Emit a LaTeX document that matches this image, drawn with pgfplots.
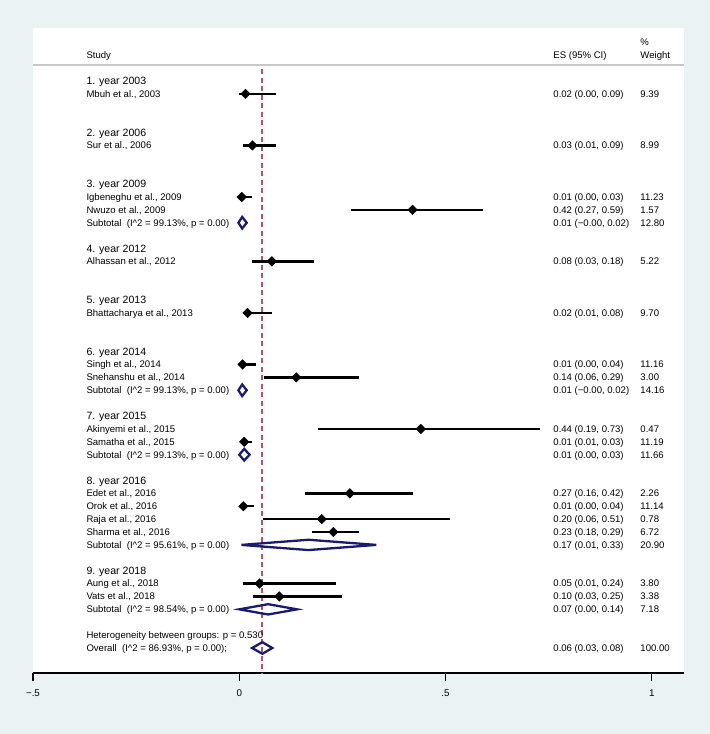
\documentclass[border=0pt]{standalone}
\usepackage{fontspec}
\setmainfont{Liberation Sans}
\usepackage{pgfplots}
\usepackage{pgfplotstable}
\pgfplotsset{compat=1.18}

\definecolor{bgc}{RGB}{234,242,243}
\definecolor{stnavy}{RGB}{26,26,112}
\definecolor{refred}{RGB}{181,84,95}
\definecolor{sepgray}{RGB}{200,200,200}

% row = line number from the top, es / lo / hi as drawn
\pgfplotstableread{
row es    lo     hi
2   0.015 0.00   0.09
6   0.032 0.01   0.09
10  0.006 0.00   0.03
11  0.42  0.27   0.59
15  0.079 0.03   0.18
19  0.02  0.01   0.08
23  0.008 0.00   0.04
24  0.138 0.06   0.29
28  0.44  0.19   0.73
29  0.012 0.005  0.03
33  0.268 0.16   0.42
34  0.01  0.00   0.035
35  0.20  0.058  0.51
36  0.228 0.177  0.289
40  0.049 0.01   0.235
41  0.097 0.034  0.248
}\studies

\tikzset{
  lbl/.style={anchor=base west, yshift=-3.4bp, inner sep=0pt, font=\fontsize{9.6}{11}\selectfont},
  grp/.style={anchor=base west, yshift=-3.8bp, inner sep=0pt, font=\fontsize{10.6}{12}\selectfont},
  diam/.style={stnavy, line width=2.3pt, line join=miter},
}
\newcommand{\isq}{I\textasciicircum 2}
% one text row: row, ES (95% CI), weight
\newcommand{\esrow}[3]{%
  \node[lbl] at (axis cs:0.761,-#1) {#2};
  \node[lbl] at (axis cs:0.972,-#1) {#3};}

\begin{document}
\begin{tikzpicture}[x=1bp,y=1bp]
\fill[bgc] (-33,-61) rectangle (677,673);
\fill[white] (0,0) rectangle (651,645);
\begin{axis}[
    at={(0,0)}, anchor=south west,
    width=651bp, height=645bp, scale only axis,
    xmin=-0.5, xmax=1.078,
    ymin=-46.94, ymax=3.113,
    axis x line*=bottom, axis y line=none,
    x axis line style={black, line width=1.3pt},
    xtick={-0.5,0,0.5,1},
    xticklabels={−.5,0,.5,1},
    ytick=\empty,
    tick align=outside,
    major tick length=8bp,
    xtick style={black, line width=1.3pt},
    ticklabel style={font=\fontsize{9.8}{11}\selectfont},
    xticklabel style={yshift=-5.5bp},
    clip=false,
]
% separator under header and reference line at overall estimate
\draw[sepgray, line width=1.5pt] (axis cs:-0.5,0.224) -- (axis cs:1.078,0.224);
\addplot[refred, line width=2pt, dash pattern=on 5bp off 3.5bp] coordinates {(0.056,-0.1) (0.056,-46.94)};

% individual studies
\addplot[black, only marks, mark=square*, mark size=3.4pt,
    mark options={rotate=45, fill=black, draw=black},
    error bars/.cd, x dir=both, x explicit, error mark=none,
    error bar style={line width=2.4pt, black}]
  table[x=es, y expr=-\thisrow{row},
        x error plus expr=\thisrow{hi}-\thisrow{es},
        x error minus expr=\thisrow{es}-\thisrow{lo}] {\studies};

% subtotal and overall diamonds
\addplot[diam] coordinates {(-0.002,-12) (0.007,-11.55) (0.018,-12) (0.007,-12.45)} -- cycle;
\addplot[diam] coordinates {(-0.002,-25) (0.007,-24.55) (0.018,-25) (0.007,-25.45)} -- cycle;
\addplot[diam] coordinates {(0.0,-30) (0.012,-29.55) (0.025,-30) (0.012,-30.45)} -- cycle;
\addplot[diam] coordinates {(0.005,-37) (0.168,-36.6) (0.332,-37) (0.168,-37.4)} -- cycle;
\addplot[diam] coordinates {(0.0,-42) (0.07,-41.6) (0.14,-42) (0.07,-42.4)} -- cycle;
\addplot[diam] coordinates {(0.031,-45) (0.056,-44.55) (0.08,-45) (0.056,-45.45)} -- cycle;

% header
\node[lbl] at (axis cs:-0.3708,1) {Study};
\node[lbl] at (axis cs:0.761,1) {ES (95\% CI)};
\node[lbl] at (axis cs:0.972,2) {\%};
\node[lbl] at (axis cs:0.972,1) {Weight};

% left column
\node[grp] at (axis cs:-0.3708,-1) {1. year 2003};
\node[lbl] at (axis cs:-0.3708,-2) {Mbuh et al., 2003};
\node[grp] at (axis cs:-0.3708,-5) {2. year 2006};
\node[lbl] at (axis cs:-0.3708,-6) {Sur et al., 2006};
\node[grp] at (axis cs:-0.3708,-9) {3. year 2009};
\node[lbl] at (axis cs:-0.3708,-10) {Igbeneghu et al., 2009};
\node[lbl] at (axis cs:-0.3708,-11) {Nwuzo et al., 2009};
\node[lbl] at (axis cs:-0.3708,-12) {Subtotal\ \ (\isq{} = 99.13\%, p = 0.00)};
\node[grp] at (axis cs:-0.3708,-14) {4. year 2012};
\node[lbl] at (axis cs:-0.3708,-15) {Alhassan et al., 2012};
\node[grp] at (axis cs:-0.3708,-18) {5. year 2013};
\node[lbl] at (axis cs:-0.3708,-19) {Bhattacharya et al., 2013};
\node[grp] at (axis cs:-0.3708,-22) {6. year 2014};
\node[lbl] at (axis cs:-0.3708,-23) {Singh et al., 2014};
\node[lbl] at (axis cs:-0.3708,-24) {Snehanshu et al., 2014};
\node[lbl] at (axis cs:-0.3708,-25) {Subtotal\ \ (\isq{} = 99.13\%, p = 0.00)};
\node[grp] at (axis cs:-0.3708,-27) {7. year 2015};
\node[lbl] at (axis cs:-0.3708,-28) {Akinyemi et al., 2015};
\node[lbl] at (axis cs:-0.3708,-29) {Samatha et al., 2015};
\node[lbl] at (axis cs:-0.3708,-30) {Subtotal\ \ (\isq{} = 99.13\%, p = 0.00)};
\node[grp] at (axis cs:-0.3708,-32) {8. year 2016};
\node[lbl] at (axis cs:-0.3708,-33) {Edet et al., 2016};
\node[lbl] at (axis cs:-0.3708,-34) {Orok et al., 2016};
\node[lbl] at (axis cs:-0.3708,-35) {Raja et al., 2016};
\node[lbl] at (axis cs:-0.3708,-36) {Sharma et al., 2016};
\node[lbl] at (axis cs:-0.3708,-37) {Subtotal\ \ (\isq{} = 95.61\%, p = 0.00)};
\node[grp] at (axis cs:-0.3708,-39) {9. year 2018};
\node[lbl] at (axis cs:-0.3708,-40) {Aung et al., 2018};
\node[lbl] at (axis cs:-0.3708,-41) {Vats et al., 2018};
\node[lbl] at (axis cs:-0.3708,-42) {Subtotal\ \ (\isq{} = 98.54\%, p = 0.00)};
\node[lbl] at (axis cs:-0.3708,-44) {Heterogeneity between groups: p = 0.530};
\node[lbl] at (axis cs:-0.3708,-45) {Overall\ \ (\isq{} = 86.93\%, p = 0.00);};

% ES and weight columns
\esrow{2}{0.02 (0.00, 0.09)}{9.39}
\esrow{6}{0.03 (0.01, 0.09)}{8.99}
\esrow{10}{0.01 (0.00, 0.03)}{11.23}
\esrow{11}{0.42 (0.27, 0.59)}{1.57}
\esrow{12}{0.01 (−0.00, 0.02)}{12.80}
\esrow{15}{0.08 (0.03, 0.18)}{5.22}
\esrow{19}{0.02 (0.01, 0.08)}{9.70}
\esrow{23}{0.01 (0.00, 0.04)}{11.16}
\esrow{24}{0.14 (0.06, 0.29)}{3.00}
\esrow{25}{0.01 (−0.00, 0.02)}{14.16}
\esrow{28}{0.44 (0.19, 0.73)}{0.47}
\esrow{29}{0.01 (0.01, 0.03)}{11.19}
\esrow{30}{0.01 (0.00, 0.03)}{11.66}
\esrow{33}{0.27 (0.16, 0.42)}{2.26}
\esrow{34}{0.01 (0.00, 0.04)}{11.14}
\esrow{35}{0.20 (0.06, 0.51)}{0.78}
\esrow{36}{0.23 (0.18, 0.29)}{6.72}
\esrow{37}{0.17 (0.01, 0.33)}{20.90}
\esrow{40}{0.05 (0.01, 0.24)}{3.80}
\esrow{41}{0.10 (0.03, 0.25)}{3.38}
\esrow{42}{0.07 (0.00, 0.14)}{7.18}
\esrow{45}{0.06 (0.03, 0.08)}{100.00}
\end{axis}
\pgfresetboundingbox
\useasboundingbox (-33,-61) rectangle (677,673);
\end{tikzpicture}
\end{document}
